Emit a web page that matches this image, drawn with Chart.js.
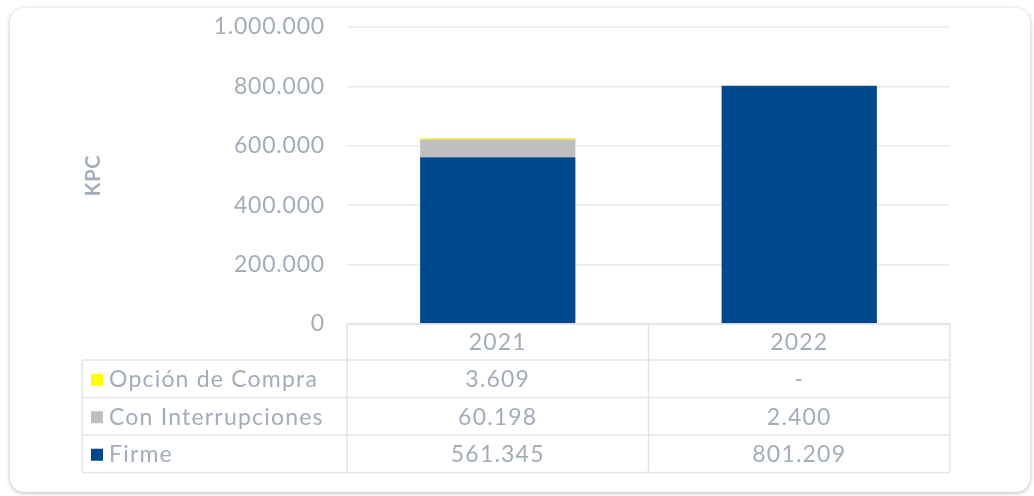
<!DOCTYPE html>
<html>
<head>
<meta charset="utf-8">
<script src="https://cdn.jsdelivr.net/npm/chart.js"></script>
<style>
  html, body { margin: 0; padding: 0; background: #ffffff; }
  .card {
    position: absolute; left: 10px; top: 8px; width: 1020px; height: 484px;
    border-radius: 14px; background: #fff;
    box-shadow: 0 1px 4px rgba(0,0,0,0.28);
  }
  #wrap { position: absolute; left: 0; top: 0; width: 1034px; height: 496px; }
</style>
</head>
<body>
<div class="card"></div>
<div id="wrap"><canvas id="grafico"></canvas></div>
<script>
// ---- datos ----
const anios = ['2021', '2022'];
const firme = [561345, 801209];
const conInterrupciones = [60198, 2400];
const opcionCompra = [3609, null];
const ticksY = [0, 200000, 400000, 600000, 800000, 1000000];

const texto = '#a3adba';
const lineaTabla = '#e1e5ea';
const fuente = 'Lato, "Open Sans", sans-serif';

function miles(v) {
  if (v === null || v === undefined) return '-';
  return String(v).replace(/\B(?=(\d{3})+(?!\d))/g, '.');
}

// espaciado de letras para parecerse a la fuente original
const espaciado = {
  id: 'espaciado',
  beforeDraw(chart) { chart.ctx.letterSpacing = '0.8px'; }
};

// tabla de datos bajo el grafico
const tablaDatos = {
  id: 'tablaDatos',
  afterDraw(chart) {
    const c = chart.ctx;
    const xs = chart.scales.x;
    const area = chart.chartArea;
    const izq = 82, altoCab = 36, altoFila = 37.5;
    const top = area.bottom;
    const filas = chart.data.datasets.slice().reverse();
    const bordes = [area.left];
    for (let i = 0; i < anios.length - 1; i++) {
      bordes.push((xs.getPixelForValue(i) + xs.getPixelForValue(i + 1)) / 2);
    }
    bordes.push(area.right);
    const fondo = top + altoCab + altoFila * filas.length;

    c.save();
    c.strokeStyle = lineaTabla;
    c.lineWidth = 1.5;
    c.beginPath();
    // lineas horizontales
    c.moveTo(area.left, top); c.lineTo(area.right, top);
    for (let r = 0; r <= filas.length; r++) {
      const y = top + altoCab + altoFila * r;
      c.moveTo(izq, y); c.lineTo(area.right, y);
    }
    // lineas verticales
    c.moveTo(izq, top + altoCab); c.lineTo(izq, fondo);
    bordes.forEach(x => { c.moveTo(x, top); c.lineTo(x, fondo); });
    c.stroke();

    c.font = '23px ' + fuente;
    c.letterSpacing = '1.2px';
    c.fillStyle = texto;
    c.textBaseline = 'middle';
    c.textAlign = 'center';
    anios.forEach((a, i) => c.fillText(a, xs.getPixelForValue(i), top + altoCab / 2 + 1));

    filas.forEach((ds, r) => {
      const yc = top + altoCab + altoFila * r + altoFila / 2 + 1;
      c.fillStyle = ds.backgroundColor;
      c.fillRect(izq + 9, yc - 6, 12, 12);
      c.fillStyle = texto;
      c.textAlign = 'left';
      c.fillText(ds.label, izq + 27, yc);
      c.textAlign = 'center';
      ds.data.forEach((v, i) => c.fillText(miles(v), xs.getPixelForValue(i), yc));
    });
    c.restore();
  }
};

new Chart(document.getElementById('grafico'), {
  type: 'bar',
  data: {
    labels: anios,
    datasets: [
      { label: 'Firme', data: firme, backgroundColor: '#00488d' },
      { label: 'Con Interrupciones', data: conInterrupciones, backgroundColor: '#bfbfbf' },
      { label: 'Opción de Compra', data: opcionCompra, backgroundColor: '#ffff00' }
    ]
  },
  options: {
    responsive: true,
    maintainAspectRatio: false,
    animation: false,
    layout: { padding: { left: 78, right: 84, top: 27, bottom: 172 } },
    plugins: { legend: { display: false }, tooltip: { enabled: false } },
    datasets: { bar: { categoryPercentage: 1, barPercentage: 0.515 } },
    scales: {
      x: { stacked: true, display: false },
      y: {
        stacked: true,
        min: 0, max: 1000000,
        afterBuildTicks(s) { s.ticks = ticksY.map(v => ({ value: v })); },
        afterFit(s) { s.width = 269; s.paddingTop = 0; s.paddingBottom = 0; },
        border: { display: false },
        grid: { color: '#e6e9ee', lineWidth: 1.5, drawTicks: false },
        ticks: {
          padding: 22,
          color: texto,
          font: { family: fuente, size: 23 },
          callback: v => miles(v)
        },
        title: {
          display: true, text: 'KPC', color: texto,
          font: { family: fuente, size: 20, weight: 'bold' }
        }
      }
    }
  },
  plugins: [espaciado, tablaDatos]
});
</script>
</body>
</html>
